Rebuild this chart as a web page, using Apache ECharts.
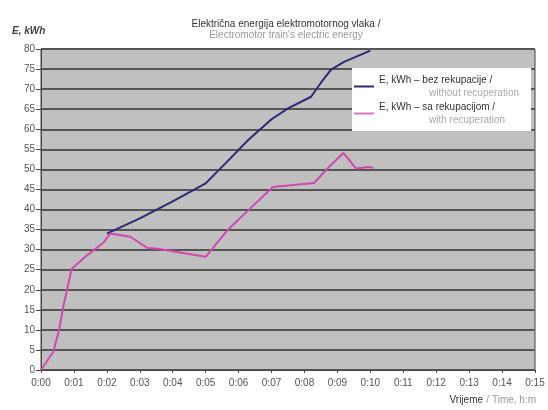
<!DOCTYPE html>
<html>
<head>
<meta charset="utf-8">
<script src="https://cdn.jsdelivr.net/npm/echarts@6/dist/echarts.min.js"></script>
<style>html,body{margin:0;padding:0;background:#fff}#c{width:548px;height:410px}</style>
</head>
<body>
<div id="c"></div>
<script>
// time in minutes (axis labelled h:mm), energy in kWh
const xTicks = ['0:00','0:01','0:02','0:03','0:04','0:05','0:06','0:07','0:08','0:09','0:10','0:11','0:12','0:13','0:14','0:15'];
const withoutRecupTime = [2.0, 3.0, 4.0, 5.0, 5.6, 6.3, 7.0, 7.5, 8.2, 8.5, 8.8, 9.2, 10.0];
const withoutRecupE    = [34, 37.8, 42, 46.5, 51.5, 57.4, 62.5, 65.2, 68.1, 71.6, 74.8, 76.8, 79.6];
const withRecupTime = [0, 0.37, 0.55, 0.67, 0.93, 1.31, 1.89, 2.1, 2.71, 3.23, 3.54, 5.0, 5.67, 6.37, 7.04, 8.29, 8.72, 9.18, 9.57, 9.94, 10.09];
const withRecupE    = [0, 4.5, 10, 15.5, 25.2, 28, 31.7, 34, 33.2, 30.4, 30.2, 28.2, 34.9, 40.4, 45.6, 46.6, 50.4, 54.1, 50.2, 50.6, 50.4];

const zip = (a, b) => a.map((v, i) => [v, b[i]]);
const chart = echarts.init(document.getElementById('c'));
const FONT = 'Liberation Sans';
chart.setOption({
  animation: false,
  textStyle: { fontFamily: FONT },
  title: {
    text: 'Električna energija elektromotornog vlaka /',
    subtext: "Electromotor train's electric energy",
    left: 281, top: 14, textAlign: 'center', itemGap: 1,
    textStyle: { fontSize: 10, fontWeight: 'normal', color: '#333', fontFamily: FONT },
    subtextStyle: { fontSize: 10, color: '#999', fontFamily: FONT }
  },
  grid: { left: 41, right: 13, top: 49, bottom: 40, show: true, backgroundColor: '#c0c0c0', borderColor: '#444', borderWidth: 1 },
  legend: {
    orient: 'vertical', left: 352, top: 68,
    backgroundColor: '#fff', padding: [7, 12, 6, 2], itemGap: 4,
    itemWidth: 20, itemHeight: 2, icon: 'rect',
    formatter: name => name === 'bez'
      ? '{a|E, kWh – bez rekupacije /}\n{b|without recuperation}'
      : '{a|E, kWh – sa rekupacijom /}\n{b|with recuperation}',
    textStyle: {
      rich: {
        a: { fontSize: 10, color: '#333', fontFamily: FONT, lineHeight: 13 },
        b: { fontSize: 10, color: '#aaa', fontFamily: FONT, lineHeight: 13, padding: [0, 0, 0, 50] }
      }
    },
    data: ['bez', 'sa']
  },
  xAxis: {
    type: 'value', min: 0, max: 15, interval: 1,
    axisLine: { show: true, onZero: false, lineStyle: { color: '#444' } },
    axisTick: { show: true, length: 3, lineStyle: { color: '#444' } },
    axisLabel: { fontSize: 10, color: '#555', margin: 8, formatter: v => xTicks[Math.round(v)] },
    splitLine: { show: false }
  },
  yAxis: {
    type: 'value', min: 0, max: 80, interval: 5,
    axisLine: { show: true, lineStyle: { color: '#444' } },
    axisTick: { show: true, length: 5, lineStyle: { color: '#444' } },
    axisLabel: { fontSize: 10, color: '#555', margin: 6 },
    splitLine: { show: true, lineStyle: { color: '#555', width: 2 } }
  },
  graphic: [
    { type: 'text', left: 12, top: 26, style: { text: 'E, kWh', font: 'italic bold 10px ' + FONT, fill: '#444' } },
    { type: 'text', right: 12, top: 394, style: {
      text: '{a|Vrijeme} {b|/ Time, h:m}',
      rich: { a: { fontSize: 10, fill: '#333', fontFamily: FONT }, b: { fontSize: 10, fill: '#999', fontFamily: FONT } }
    } }
  ],
  series: [
    { name: 'bez', type: 'line', data: zip(withoutRecupTime, withoutRecupE), symbol: 'none', z: 3,
      lineStyle: { color: '#2b2b72', width: 2 }, itemStyle: { color: '#2b2b72' } },
    { name: 'sa', type: 'line', data: zip(withRecupTime, withRecupE), symbol: 'none', z: 4,
      lineStyle: { color: '#d048b0', width: 2 }, itemStyle: { color: '#e070c8' } }
  ]
});
</script>
</body>
</html>
